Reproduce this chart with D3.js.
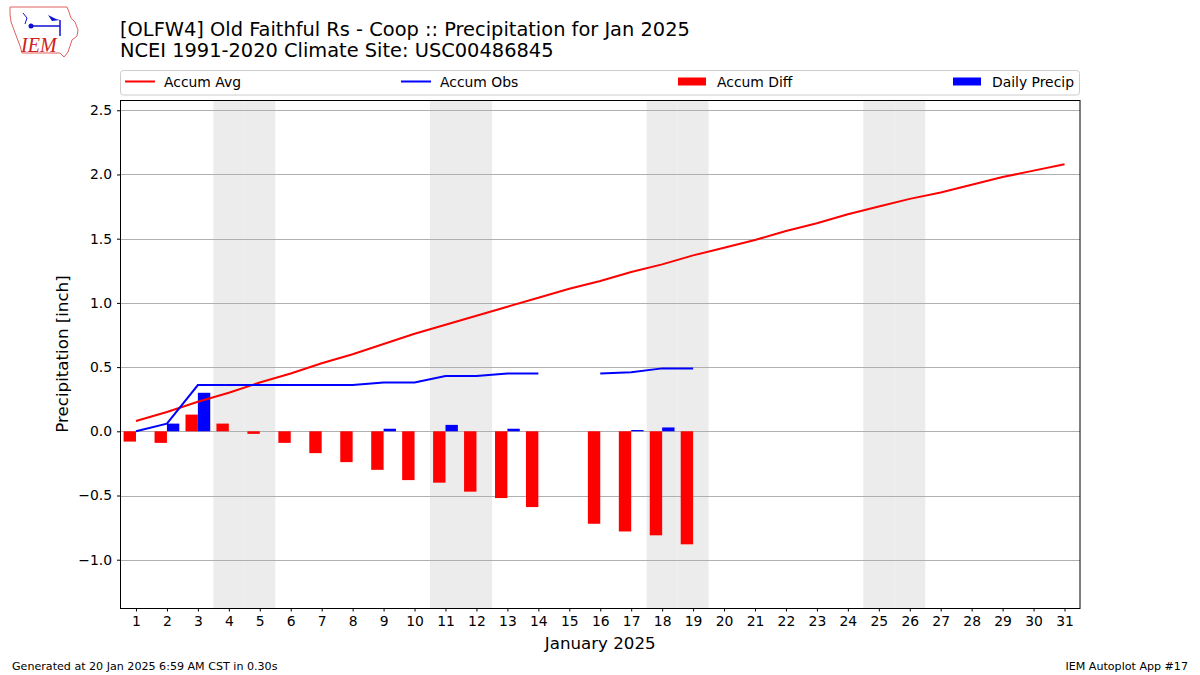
<!DOCTYPE html>
<html>
<head>
<meta charset="utf-8">
<script src="https://cdn.jsdelivr.net/npm/d3@7"></script>
<style>
  html, body { margin: 0; padding: 0; background: #fff; }
  svg { display: block; font-family: "DejaVu Sans", sans-serif; }
</style>
</head>
<body>
<svg id="chart" width="1200" height="675"></svg>
<script>
// ---------- DATA ----------
const days = d3.range(1, 32);
const accumAvg = [0.08, 0.15, 0.23, 0.30, 0.38, 0.45, 0.53, 0.60, 0.68, 0.76,
                  0.83, 0.90, 0.97, 1.04, 1.11, 1.17, 1.24, 1.30, 1.37, 1.43,
                  1.49, 1.56, 1.62, 1.69, 1.75, 1.81, 1.86, 1.92, 1.98, 2.03, 2.08];
const accumObs = [0.00, 0.06, 0.36, 0.36, 0.36, 0.36, 0.36, 0.36, 0.38, 0.38,
                  0.43, 0.43, 0.45, 0.45, null, 0.45, 0.46, 0.49, 0.49];
const accumDiff = [-0.08, -0.09, 0.13, 0.06, -0.02, -0.09, -0.17, -0.24, -0.30, -0.38,
                   -0.40, -0.47, -0.52, -0.59, null, -0.72, -0.78, -0.81, -0.88];
const dailyPrecip = [0.00, 0.06, 0.30, 0.00, 0.00, 0.00, 0.00, 0.00, 0.02, 0.00,
                     0.05, 0.00, 0.02, 0.00, null, 0.00, 0.01, 0.03, 0.00];
const weekendDays = [4, 5, 11, 12, 18, 19, 25, 26];
const yTicks = [-1.0, -0.5, 0.0, 0.5, 1.0, 1.5, 2.0, 2.5];
const xTicks = days;
const titleLines = ["[OLFW4] Old Faithful Rs - Coop :: Precipitation for Jan 2025",
                    "NCEI 1991-2020 Climate Site: USC00486845"];
const legendItems = [
  {label: "Accum Avg", color: "#ff0000", type: "line"},
  {label: "Accum Obs", color: "#0000ff", type: "line"},
  {label: "Accum Diff", color: "#ff0000", type: "rect"},
  {label: "Daily Precip", color: "#0000ff", type: "rect"}
];
const xLabel = "January 2025";
const yLabel = "Precipitation [inch]";
const footerLeft = "Generated at 20 Jan 2025 6:59 AM CST in 0.30s";
const footerRight = "IEM Autoplot App #17";

// ---------- LAYOUT ----------
const svg = d3.select("#chart");
const L = 120.5, R = 1080, T = 100, B = 608;
const x = d3.scaleLinear().domain([0.5, 31.5]).range([L, R]);
const y = d3.scaleLinear().domain([-1.376, 2.58]).range([B, T]);
const barW = 0.4;
const fmtY = v => d3.format(".1f")(v).replace("-", "\u2212");

// weekend shading
svg.append("g").selectAll("rect").data(weekendDays).join("rect")
  .attr("x", d => x(d - 0.5)).attr("width", d => x(d + 0.5) - x(d - 0.5))
  .attr("y", T).attr("height", B - T).attr("fill", "#ececec");

// grid
svg.append("g").selectAll("line").data(yTicks).join("line")
  .attr("x1", L).attr("x2", R)
  .attr("y1", d => Math.round(y(d)) + 0.5).attr("y2", d => Math.round(y(d)) + 0.5)
  .attr("stroke", "#b0b0b0").attr("stroke-width", 1);

// bars: accum diff (left of day), daily precip (right of day)
const diffData = accumDiff.map((v, i) => ({d: i + 1, v})).filter(o => o.v !== null);
svg.append("g").selectAll("rect").data(diffData).join("rect")
  .attr("x", o => x(o.d - barW)).attr("width", o => x(barW) - x(0))
  .attr("y", o => y(Math.max(0, o.v))).attr("height", o => Math.abs(y(o.v) - y(0)))
  .attr("fill", "#ff0000");
const dailyData = dailyPrecip.map((v, i) => ({d: i + 1, v})).filter(o => o.v !== null && o.v > 0);
svg.append("g").selectAll("rect").data(dailyData).join("rect")
  .attr("x", o => x(o.d)).attr("width", o => x(barW) - x(0))
  .attr("y", o => y(Math.max(0, o.v))).attr("height", o => Math.abs(y(o.v) - y(0)))
  .attr("fill", "#0000ff");

// lines
const line = d3.line().defined(o => o.v !== null).x(o => x(o.d)).y(o => y(o.v));
svg.append("path").datum(accumAvg.map((v, i) => ({d: i + 1, v})))
  .attr("d", line).attr("fill", "none").attr("stroke", "#ff0000").attr("stroke-width", 2);
svg.append("path").datum(accumObs.map((v, i) => ({d: i + 1, v})))
  .attr("d", line).attr("fill", "none").attr("stroke", "#0000ff").attr("stroke-width", 2);

// axes
const yAxis = svg.append("g").attr("transform", `translate(${L},0)`)
  .call(d3.axisLeft(y).tickValues(yTicks).tickFormat(fmtY).tickSize(3.5).tickPadding(5));
const xAxis = svg.append("g").attr("transform", `translate(0,${B})`)
  .call(d3.axisBottom(x).tickValues(xTicks).tickFormat(d3.format("d")).tickSize(3.5).tickPadding(5));
[xAxis, yAxis].forEach(g => {
  g.select(".domain").remove();
  g.selectAll("text").attr("font-size", 13.9).attr("fill", "#000").attr("font-family", "DejaVu Sans");
  g.selectAll("line").attr("stroke", "#000");
});

// frame
svg.append("rect").attr("x", L).attr("y", T + 0.5).attr("width", R - L).attr("height", B - T)
  .attr("fill", "none").attr("stroke", "#000").attr("stroke-width", 1);

// axis labels
svg.append("text").attr("x", (L + R) / 2).attr("y", 649).attr("text-anchor", "middle")
  .attr("font-size", 16.67).text(xLabel);
svg.append("text").attr("transform", `translate(68,${(T + B) / 2}) rotate(-90)`)
  .attr("text-anchor", "middle").attr("font-size", 16.67).text(yLabel);

// title
svg.append("g").selectAll("text").data(titleLines).join("text")
  .attr("x", 120).attr("y", (d, i) => 36 + i * 21).attr("font-size", 19.4).text(d => d);

// legend
const lg = svg.append("g");
lg.append("rect").attr("x", 120.5).attr("y", 70.5).attr("width", 959).attr("height", 24.5)
  .attr("rx", 3).attr("fill", "#fff").attr("stroke", "#cccccc");
const legX = [125, 401, 678, 953];
legendItems.forEach((it, i) => {
  const gx = legX[i];
  if (it.type === "line") {
    lg.append("line").attr("x1", gx).attr("x2", gx + 30).attr("y1", 81.5).attr("y2", 81.5)
      .attr("stroke", it.color).attr("stroke-width", 2);
  } else {
    lg.append("rect").attr("x", gx).attr("y", 77.5).attr("width", 28).attr("height", 8)
      .attr("fill", it.color);
  }
  lg.append("text").attr("x", gx + 39).attr("y", 86.5).attr("font-size", 13.9).text(it.label);
});

// footer
svg.append("text").attr("x", 12).attr("y", 670).attr("font-size", 11.1).text(footerLeft);
svg.append("text").attr("x", 1188).attr("y", 670).attr("font-size", 11.1)
  .attr("text-anchor", "end").text(footerRight);

// IEM logo (decorative)
const logo = svg.append("g");
logo.append("path")
  .attr("d", "M10,7 L67,7 L69,12 L71,18 L75,22 L78,30 L77,36 L72,40 L70,46 L68,52 L64,57 L60,53 L22,53 L20,46 L17,38 L14,30 L11,22 L10,14 Z")
  .attr("fill", "#fff").attr("stroke", "#e06060").attr("stroke-width", 1);
logo.append("line").attr("x1", 30).attr("y1", 26).attr("x2", 60).attr("y2", 26)
  .attr("stroke", "#1010d0").attr("stroke-width", 1.5);
logo.append("circle").attr("cx", 31).attr("cy", 26).attr("r", 2.5).attr("fill", "#1010d0");
logo.append("path").attr("d", "M48,15 L56,19 L60,20 L52,21 Z").attr("fill", "#1010d0");
logo.append("line").attr("x1", 60).attr("y1", 20).attr("x2", 60).attr("y2", 36)
  .attr("stroke", "#1010d0").attr("stroke-width", 1.5);
logo.append("path").attr("d", "M23,13 L27,18 L25,24").attr("fill", "none")
  .attr("stroke", "#1010d0").attr("stroke-width", 1);
logo.append("text").attr("x", 21).attr("y", 52).attr("font-family", "Liberation Serif, serif")
  .attr("font-style", "italic").attr("font-size", 20).attr("fill", "#d02020").text("IEM");
</script>
</body>
</html>
